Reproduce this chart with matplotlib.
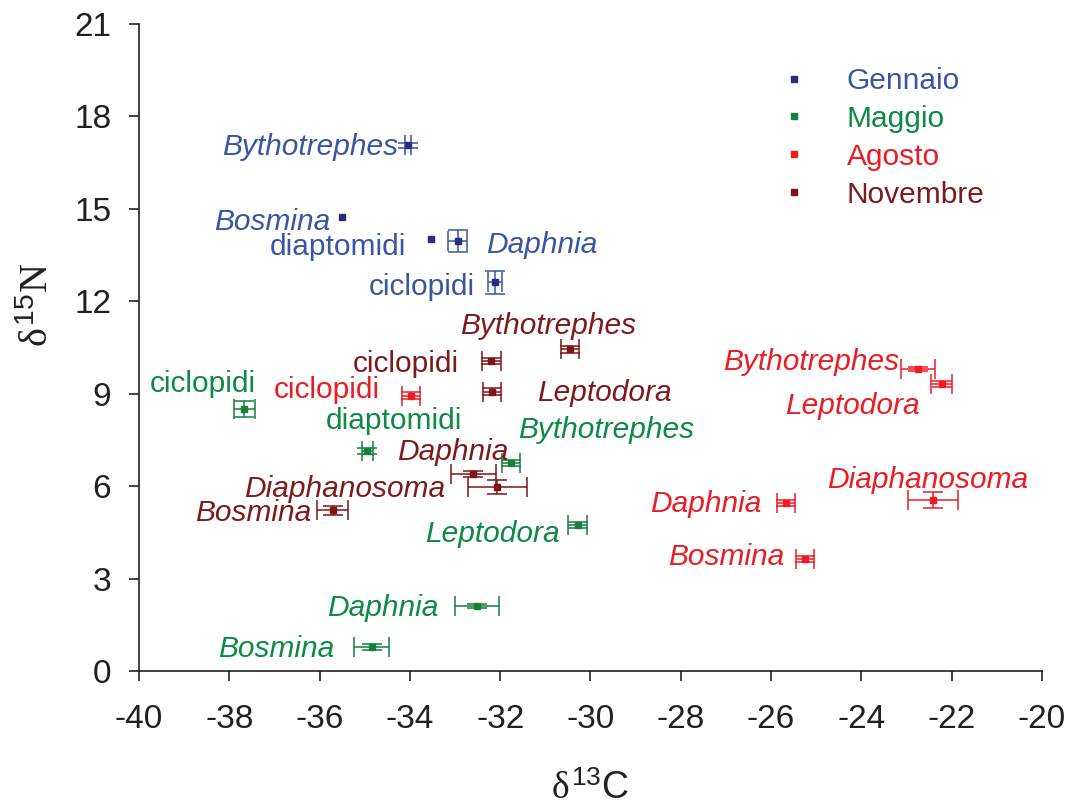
import matplotlib
matplotlib.use("Agg")
import matplotlib.pyplot as plt
from matplotlib.lines import Line2D

# ---------------- data ----------------
gen_species = ['Bythotrephes', 'Bosmina', 'diaptomidi', 'Daphnia', 'ciclopidi']
gen_d13c = [-34.04, -35.50, -33.53, -32.94, -32.12]
gen_d15n = [17.06, 14.72, 14.03, 13.95, 12.61]
gen_xerr = [0.07, 0.0, 0.0, 0.21, 0.15]
gen_yerr = [0.07, 0.0, 0.0, 0.35, 0.38]

mag_species = ['ciclopidi', 'diaptomidi', 'Bythotrephes', 'Leptodora', 'Daphnia', 'Bosmina']
mag_d13c = [-37.67, -34.94, -31.77, -30.28, -32.52, -34.85]
mag_d15n = [8.50, 7.14, 6.76, 4.74, 2.11, 0.77]
mag_xerr = [0.23, 0.12, 0.20, 0.21, 0.49, 0.38]
mag_yerr = [0.25, 0.10, 0.10, 0.10, 0.05, 0.10]

ago_species = ['ciclopidi', 'Bythotrephes', 'Leptodora', 'Diaphanosoma', 'Daphnia', 'Bosmina']
ago_d13c = [-33.98, -22.74, -22.22, -22.41, -25.68, -25.25]
ago_d15n = [8.93, 9.81, 9.32, 5.55, 5.44, 3.63]
ago_xerr = [0.20, 0.38, 0.23, 0.55, 0.20, 0.19]
ago_yerr = [0.11, 0.07, 0.10, 0.26, 0.10, 0.10]

nov_species = ['Bythotrephes', 'ciclopidi', 'Leptodora', 'Daphnia', 'Diaphanosoma', 'Bosmina']
nov_d13c = [-30.45, -32.20, -32.19, -32.60, -32.06, -35.71]
nov_d15n = [10.44, 10.06, 9.07, 6.39, 5.98, 5.21]
nov_xerr = [0.20, 0.21, 0.20, 0.50, 0.66, 0.35]
nov_yerr = [0.11, 0.10, 0.10, 0.10, 0.23, 0.16]

season_names = ['Gennaio', 'Maggio', 'Agosto', 'Novembre']
x_ticks = [-40, -38, -36, -34, -32, -30, -28, -26, -24, -22, -20]
y_ticks = [0, 3, 6, 9, 12, 15, 18, 21]

# ---------------- styles / label placement (pixels) ----------------
marker_colors = ['#2b2e7e', '#14803e', '#ed1c24', '#7d1416']
text_colors = ['#3a55a4', '#0d8a43', '#ed1c24', '#7f1a1c']
upright = {'diaptomidi', 'ciclopidi'}

gen_lab = [('right', -10, 9.3), ('right', -12, 12.3), ('right', -25, 16),
           ('left', 28.3, 12), ('right', -20, 12.3)]
mag_lab = [('center', -41.8, -17.6), ('center', 26.5, -21.7), ('left', 7.6, -24.4),
           ('right', -18.4, 16.7), ('right', -38.4, 10), ('right', -36.7, 9.4)]
ago_lab = [('right', -30.7, 2.3), ('right', -19, 1), ('right', -22.4, 30),
           ('center', -5.3, -11.7), ('right', -24, 8.4), ('right', -21, 5.7)]
nov_lab = [('center', -21.7, -15.3), ('right', -32.7, 10.7), ('left', 45, 9),
           ('right', 35, -14.3), ('right', -52.7, 10), ('right', -21, 11)]

seasons = [
    (gen_species, gen_d13c, gen_d15n, gen_xerr, gen_yerr, gen_lab),
    (mag_species, mag_d13c, mag_d15n, mag_xerr, mag_yerr, mag_lab),
    (ago_species, ago_d13c, ago_d15n, ago_xerr, ago_yerr, ago_lab),
    (nov_species, nov_d13c, nov_d15n, nov_xerr, nov_yerr, nov_lab),
]

plt.rcParams['font.family'] = ['Liberation Sans', 'DejaVu Sans']
plt.rcParams['mathtext.fontset'] = 'custom'
plt.rcParams['mathtext.rm'] = 'Liberation Sans'
plt.rcParams['mathtext.it'] = 'Liberation Serif'
plt.rcParams['mathtext.sf'] = 'Liberation Sans'

axis_col = '#231f20'
fig = plt.figure(figsize=(10.69, 8.09), dpi=100)
ax = fig.add_axes([139 / 1069, 1 - 671 / 809, (1042 - 139) / 1069, (671 - 24) / 809])

label_fs = 21.5
for si, (sp, xs, ys, xe, ye, lab) in enumerate(seasons):
    mc = marker_colors[si]
    tc = text_colors[si]
    ec = tc if si == 0 else mc
    for i in range(len(sp)):
        if xe[i] > 0 or ye[i] > 0:
            ax.errorbar(xs[i], ys[i], xerr=xe[i], yerr=ye[i], fmt='s', ms=4.5,
                        mfc=mc, mec=mc, ecolor=ec, elinewidth=1.1, capsize=7,
                        capthick=1.1, zorder=3)
        else:
            ax.plot(xs[i], ys[i], 's', ms=4.5, color=mc, zorder=3)
        ha, dx, dy = lab[i]
        ax.annotate(sp[i], (xs[i], ys[i]), xytext=(dx, -dy),
                    textcoords='offset pixels', ha=ha, va='baseline',
                    fontsize=label_fs, color=tc,
                    style='normal' if sp[i] in upright else 'italic')

ax.set_xlim(-40, -20)
ax.set_ylim(0, 21)
ax.set_xticks(x_ticks)
ax.set_yticks(y_ticks)
ax.set_xticklabels([str(t) for t in x_ticks])
ax.set_yticklabels([str(t) for t in y_ticks])
for s in ['top', 'right']:
    ax.spines[s].set_visible(False)
for s in ['left', 'bottom']:
    ax.spines[s].set_color(axis_col)
    ax.spines[s].set_linewidth(1.2)
ax.tick_params(axis='both', direction='out', length=7, width=1.2,
               colors=axis_col, labelsize=24)
ax.tick_params(axis='x', pad=17)
ax.tick_params(axis='y', pad=13)

ax.set_xlabel(r'$\delta^{13}\mathrm{C}$', fontsize=27, color=axis_col)
ax.xaxis.set_label_coords(0.5, -0.155)
ax.xaxis.label.set_va('top')
ax.set_ylabel(r'$\delta^{\mathit{15}}N$', fontsize=29, color=axis_col)
ax.yaxis.set_label_coords(-0.092, 0.566)
ax.yaxis.label.set_va('bottom')
ax.yaxis.label.set_ha('center')

handles = [Line2D([], [], marker='s', ls='none', ms=4.5, color=c) for c in marker_colors]
leg = ax.legend(handles, season_names, loc='upper left',
                bbox_to_anchor=(779 / 1069, 1 - 67 / 809), bbox_transform=fig.transFigure,
                frameon=False, fontsize=label_fs, handlelength=1.0,
                handletextpad=1.27, labelspacing=0.33, borderpad=0, borderaxespad=0)
for t, c in zip(leg.get_texts(), text_colors):
    t.set_color(c)

fig.savefig('out.png', dpi=100)
